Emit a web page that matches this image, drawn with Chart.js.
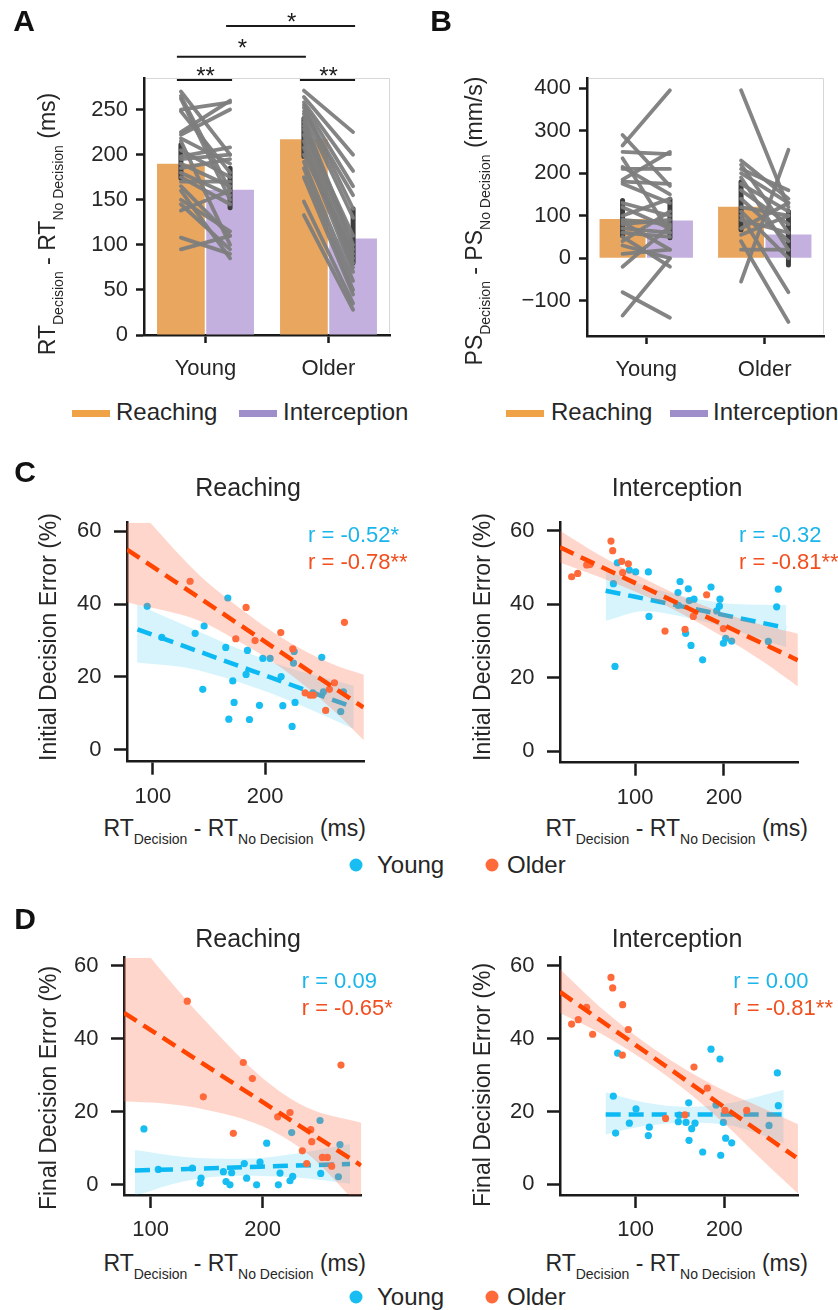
<!DOCTYPE html>
<html>
<head>
<meta charset="utf-8">
<title>Decision costs – young vs older</title>
<script src="https://cdn.jsdelivr.net/npm/chart.js@4.4.1/dist/chart.umd.min.js"></script>
<style>
  body { margin: 0; background: #fff; font-family: "Liberation Sans", Arial, sans-serif; color: #262626; }
  #fig { position: relative; width: 838px; height: 1310px; overflow: hidden; }
  canvas { position: absolute; }
  .t { position: absolute; white-space: nowrap; font-size: 23px; line-height: 30px; height: 30px; transform: translate(-50%, -50%); }
  .l { transform: translate(0, -50%); }
  .r { transform: translate(-50%, -50%) rotate(-90deg); }
  .s { font-size: 14px; vertical-align: -8px; line-height: 0; }
  .p { font-weight: bold; font-size: 30px; color: #111; }
  .h { font-size: 25px; }
  .lg { font-size: 24px; }
  .rb { color: #1AB5EA; font-size: 22px; }
  .ro { color: #F24E1E; font-size: 22px; }
  .sw { position: absolute; width: 38px; height: 7px; }
  .dot { position: absolute; width: 13px; height: 13px; border-radius: 50%; transform: translate(-50%, -50%); }
</style>
</head>
<body>
<div id="fig">
  <canvas id="cA" width="420" height="395" style="left:0;top:0"></canvas>
  <canvas id="cB" width="418" height="395" style="left:420px;top:0"></canvas>
  <canvas id="cCR" width="420" height="310" style="left:0;top:497px"></canvas>
  <canvas id="cCI" width="418" height="310" style="left:420px;top:497px"></canvas>
  <canvas id="cDR" width="420" height="310" style="left:0;top:932px"></canvas>
  <canvas id="cDI" width="418" height="310" style="left:420px;top:932px"></canvas>

  <!-- panel letters -->
  <div class="t p" style="left:24px;top:21px">A</div>
  <div class="t p" style="left:441px;top:21px">B</div>
  <div class="t p" style="left:25px;top:472px">C</div>
  <div class="t p" style="left:25px;top:919px">D</div>

  <!-- A / B axis titles and legends -->
  <div class="t r" style="left:46.5px;top:223.5px">RT<span class="s">Decision</span> - RT<span class="s">No Decision</span> (ms)</div>
  <div class="t r" style="left:474px;top:221px">PS<span class="s">Decision</span> - PS<span class="s">No Decision</span> (mm/s)</div>

  <div class="sw" style="left:72px;top:409.5px;background:#F0A346"></div>
  <div class="t l lg" style="left:116px;top:412px">Reaching</div>
  <div class="sw" style="left:239px;top:409.5px;background:#9E8FCB"></div>
  <div class="t l lg" style="left:283px;top:412px">Interception</div>

  <div class="sw" style="left:506px;top:409.5px;background:#F0A346"></div>
  <div class="t l lg" style="left:551px;top:412px">Reaching</div>
  <div class="sw" style="left:670px;top:409.5px;background:#9E8FCB"></div>
  <div class="t l lg" style="left:713px;top:412px">Interception</div>

  <!-- C -->
  <div class="t h" style="left:248px;top:486.5px">Reaching</div>
  <div class="t h" style="left:677px;top:486.5px">Interception</div>
  <div class="t r" style="left:48px;top:636.5px">Initial Decision Error (%)</div>
  <div class="t r" style="left:482px;top:636.5px">Initial Decision Error (%)</div>
  <div class="t" style="left:234.7px;top:828.3px">RT<span class="s">Decision</span> - RT<span class="s">No Decision</span> (ms)</div>
  <div class="t" style="left:676.7px;top:828.3px">RT<span class="s">Decision</span> - RT<span class="s">No Decision</span> (ms)</div>
  <div class="t l rb" style="left:308px;top:534.7px">r = -0.52*</div>
  <div class="t l ro" style="left:308px;top:561.7px">r = -0.78**</div>
  <div class="t l rb" style="left:739px;top:534.7px">r = -0.32</div>
  <div class="t l ro" style="left:739px;top:561.7px">r = -0.81**</div>
  <div class="dot" style="left:356px;top:865px;background:#18BDF2"></div>
  <div class="t l lg" style="left:377px;top:865px">Young</div>
  <div class="dot" style="left:491.7px;top:865px;background:#FF6A3A"></div>
  <div class="t l lg" style="left:507px;top:865px">Older</div>

  <!-- D -->
  <div class="t h" style="left:248px;top:937.5px">Reaching</div>
  <div class="t h" style="left:677px;top:937.5px">Interception</div>
  <div class="t r" style="left:47.7px;top:1087.5px">Final Decision Error (%)</div>
  <div class="t r" style="left:482px;top:1085px">Final Decision Error (%)</div>
  <div class="t" style="left:234.7px;top:1262.8px">RT<span class="s">Decision</span> - RT<span class="s">No Decision</span> (ms)</div>
  <div class="t" style="left:676.7px;top:1262.8px">RT<span class="s">Decision</span> - RT<span class="s">No Decision</span> (ms)</div>
  <div class="t l rb" style="left:301.7px;top:981px">r = 0.09</div>
  <div class="t l ro" style="left:301.7px;top:1008.3px">r = -0.65*</div>
  <div class="t l rb" style="left:733.3px;top:981px">r = 0.00</div>
  <div class="t l ro" style="left:733.3px;top:1008.3px">r = -0.81**</div>
  <div class="dot" style="left:356px;top:1296.5px;background:#18BDF2"></div>
  <div class="t l lg" style="left:377px;top:1296.5px">Young</div>
  <div class="dot" style="left:491.7px;top:1296.5px;background:#FF6A3A"></div>
  <div class="t l lg" style="left:507px;top:1296.5px">Older</div>
</div>

<script>
// ---------- data ----------
const groups = ['Young', 'Older'];

// A: RT cost (ms), group means, SE ranges, one [reaching, interception] pair per participant
const rtReaching = [190, 217];
const rtInterception = [161, 107];
const rtReachingSE = [[174, 211], [198, 240]];
const rtInterceptionSE = [[141, 185], [80, 140]];
const rtYoungPairs = [[270, 200], [265, 160], [262, 150], [250, 258], [248, 180], [225, 260], [222, 250], [218, 190],
  [215, 100], [205, 175], [198, 208], [195, 200], [190, 165], [185, 195], [180, 155], [175, 145], [170, 170],
  [165, 110], [160, 85], [150, 115], [145, 95], [138, 160], [108, 90], [95, 110]];
const rtOlderPairs = [[271, 225], [264, 200], [258, 182], [255, 165], [252, 140], [248, 155], [245, 130], [240, 100],
  [236, 95], [232, 85], [228, 110], [222, 80], [215, 75], [208, 70], [200, 90], [192, 60], [185, 50], [175, 45],
  [148, 35], [133, 28]];
const rtTicks = [0, 50, 100, 150, 200, 250];

// B: PS cost (mm/s)
const psReaching = [92, 121];
const psInterception = [89, 56];
const psReachingSE = [[53, 136], [67, 180]];
const psInterceptionSE = [[48, 139], [-16, 110]];
const psYoungPairs = [[290, 170], [265, 395], [250, 245], [235, 60], [215, 150], [210, 210], [185, 250], [180, 175],
  [175, 130], [130, 100], [120, 70], [100, 140], [90, 80], [85, 20], [80, 90], [70, 60], [60, 50], [50, -20],
  [40, 110], [30, 0], [10, 20], [-20, 75], [-80, -140], [-135, 0]];
const psOlderPairs = [[395, 120], [230, 140], [220, 60], [210, 160], [200, 130], [190, 20], [175, 110], [160, 80],
  [140, 40], [120, 100], [110, 0], [100, -80], [90, 60], [70, 130], [55, 100], [40, -150], [20, 20], [-55, 255]];
const psTicks = [-100, 0, 100, 200, 300, 400];

// C/D scatter: [RT cost (ms), error (%)]
const rtAxisTicks = [100, 200];
const errTicks = [0, 20, 40, 60];

const cReachYoung = [[95, 39.4], [108, 30.9], [137.7, 32.0], [145.7, 34.0], [144.5, 16.6], [166.8, 41.7], [165, 28.1],
  [184.3, 27.3], [183.1, 20.7], [171.2, 18.9], [172.4, 13.0], [167.7, 8.4], [186.1, 8.3], [195, 12.2], [198, 25.1],
  [204.5, 25.1], [214.3, 20.1], [215.8, 12.1], [225.9, 27.0], [225.3, 23.8], [226.7, 13.0], [224.1, 6.4],
  [250.5, 25.4], [252, 15.9], [242.5, 15.6], [269.8, 15.9], [267.4, 10.5]];
const cReachOlder = [[133.2, 46.3], [183.1, 39.1], [173.9, 30.5], [191.1, 30.0], [214, 32.2], [224.7, 27.7],
  [235.7, 15.6], [240.1, 15.0], [243.1, 15.0], [254, 10.8], [257.3, 16.6], [261.8, 18.4], [270.7, 35.0]];
const cReachYoungFit = [[86.3, 33.1], [278.7, 11.65]];
const cReachOlderFit = [[77, 55.0], [287.6, 11.65]];
const cReachYoungBand = [[86, 24, 40], [130, 22.5, 34], [172, 19, 28.3], [216, 14.2, 23], [279, 5.7, 17.6]];
const cReachOlderBand = [[77, 40.5, 69.5], [142, 35.4, 47.8], [172, 30.6, 40.2], [216, 22.2, 30.6], [261, 10.8, 23.4], [288, 2.6, 20.6]];

const cInterYoung = [[80.1, 51.3], [75.7, 45.6], [93.6, 49.3], [100.7, 48.8], [115, 48.8], [115.7, 36.7], [77.5, 23.1],
  [150.6, 46.2], [148.3, 43.2], [159.9, 44.2], [148.7, 39.7], [161, 41.0], [166.3, 41.4], [185.4, 44.7], [195.5, 41.4],
  [194.8, 39.5], [191.8, 38.2], [156.9, 32.1], [162.9, 28.8], [176, 24.9], [201.9, 30.7], [199.3, 29.4], [208.6, 30.0],
  [249.8, 29.9], [259.2, 39.3], [261, 44.1]];
const cInterOlder = [[28.8, 47.5], [35.6, 48.4], [45.7, 50.7], [49.4, 50.8], [73, 57.2], [74.9, 54.6], [85, 51.7],
  [92.5, 51.0], [86.1, 48.6], [133.7, 32.7], [156.2, 33.2], [165.5, 36.7], [180.5, 42.6], [199.3, 33.4]];
const cInterYoungFit = [[67, 43.7], [269.7, 33.6]];
const cInterOlderFit = [[15.7, 55.5], [282.8, 24.8]];
const cInterYoungBand = [[67, 35.5, 49.5], [110, 38.1, 45.1], [160, 36.3, 41.9], [210, 33.1, 40.1], [270, 28.3, 39.8]];
const cInterOlderBand = [[15.7, 51.4, 60], [60, 47.4, 53.4], [110, 42.4, 47], [150, 37.8, 42.4], [200, 31, 37.6], [245, 24.2, 34.2], [283, 17.6, 32]];

const dReachYoung = [[94, 15.3], [106.8, 4.2], [137.2, 4.6], [145, 1.8], [144.2, 0.4], [164.9, 3.6], [167.3, 0.9],
  [170.8, 0], [172.3, 3.3], [183.6, 5.8], [185.7, 1.8], [194.6, 0], [197.6, 6.2], [203.6, 11.4], [215.5, 3.2], [214, 0],
  [224.4, 1.1], [226.8, 2.3], [225.9, 14.3], [251.2, 17.6], [251.8, 3.1], [267.6, 2.2], [269, 11.0]];
const dReachOlder = [[132.7, 50.3], [147, 24.1], [173.8, 14.1], [182.7, 33.5], [190.8, 29.1], [213.4, 18.6],
  [224.4, 19.8], [242.9, 15.1], [243.8, 11.8], [235.4, 9.3], [253.3, 7.5], [257.7, 7.5], [261.6, 5.1], [269.9, 32.8], [239.3, 5.8]];
const dReachYoungFit = [[86, 3.9], [278, 5.7]];
const dReachOlderFit = [[76.2, 47.1], [287.8, 5.3]];
const dReachYoungBand = [[86, -3, 9.5], [130, 1, 7.6], [180, 2.5, 7.1], [230, 2, 8.6], [278, 0.3, 11.2]];
const dReachOlderBand = [[76, 22.8, 71.4], [110, 22.3, 58.5], [150, 20.5, 44.5], [200, 16, 29.2], [240, 8.5, 21.1], [288, -6.4, 17]];

const dInterYoung = [[79.7, 36], [74.8, 24.2], [77.4, 14.1], [100.4, 20.7], [92.9, 16.8], [115.4, 15.7], [114.3, 13.4],
  [148.1, 17.2], [149.2, 19.0], [156.8, 17.0], [159.8, 22.4], [163.2, 15.3], [160.2, 12.1], [166.9, 16.8], [175.6, 8.9],
  [185, 37.1], [195.1, 34.4], [190.6, 21.8], [198.9, 17.0], [201.5, 12.7], [195.9, 8.0], [208.3, 11.4], [250.4, 16.2],
  [260.9, 21.6], [259.8, 30.6]];
const dInterOlder = [[27.8, 44], [35.3, 45.2], [44.7, 48.6], [51.5, 41.2], [72.2, 56.8], [74.1, 53.9], [85.3, 49.3],
  [91.7, 42.5], [85, 35.5], [133.8, 18.1], [155.6, 19.1], [165.8, 32.2], [180.8, 26.4], [200.8, 20.3], [225.2, 20.3]];
const dInterYoungFit = [[66.2, 19.2], [266.5, 19.2]];
const dInterOlderFit = [[14.7, 52.8], [280.8, 7.4]];
const dInterYoungBand = [[66, 13.7, 25.3], [110, 16, 22.5], [160, 17, 21.3], [210, 16, 22.5], [267, 11.3, 26]];
const dInterOlderBand = [[14.7, 47, 59], [60, 41.5, 48.6], [110, 34, 39], [150, 27, 32.5], [200, 16.7, 25.7], [240, 7.3, 21.3], [283, -2.5, 16.5]];

// ---------- styling ----------
Chart.defaults.font.family = '"Liberation Sans", Arial, sans-serif';
Chart.defaults.font.size = 22;
Chart.defaults.color = '#262626';

const INK = '#1a1a1a';
const spine = { color: INK, width: 2.5 };
const tickGrid = len => ({ drawOnChartArea: false, tickLength: len, tickColor: INK, tickWidth: 2.5 });
const signed = v => (v < 0 ? '\u2212' + (-v) : String(v));
const fixTicks = list => scale => { scale.ticks = list.map(v => ({ value: v })); };

// subject lines, SE bars, light frame and significance brackets for the bar panels
const pairedLines = {
  id: 'pairedLines',
  afterDatasetsDraw(chart, args, opts) {
    const { ctx, chartArea: area } = chart;
    const y = chart.scales.y;
    const bars = [chart.getDatasetMeta(0).data, chart.getDatasetMeta(1).data];
    ctx.save();
    ctx.lineCap = 'round';

    ctx.strokeStyle = '#3d3d3d';
    ctx.lineWidth = 5;
    opts.se.forEach((ranges, d) => ranges.forEach(([lo, hi], g) => {
      const x = bars[d][g].x;
      ctx.beginPath();
      ctx.moveTo(x, y.getPixelForValue(lo));
      ctx.lineTo(x, y.getPixelForValue(hi));
      ctx.stroke();
    }));

    ctx.strokeStyle = 'rgba(125,125,125,0.95)';
    ctx.lineWidth = 3.8;
    opts.pairs.forEach((pairs, g) => pairs.forEach(([a, b]) => {
      ctx.beginPath();
      ctx.moveTo(bars[0][g].x, y.getPixelForValue(a));
      ctx.lineTo(bars[1][g].x, y.getPixelForValue(b));
      ctx.stroke();
    }));

    ctx.lineCap = 'butt';
    ctx.strokeStyle = '#d6d6d6';
    ctx.lineWidth = 1;
    ctx.beginPath();
    ctx.moveTo(area.left + 2, area.top + 0.5);
    ctx.lineTo(area.right - 0.5, area.top + 0.5);
    ctx.lineTo(area.right - 0.5, area.bottom - 2);
    ctx.stroke();

    ctx.strokeStyle = INK;
    ctx.fillStyle = INK;
    ctx.lineWidth = 2;
    ctx.font = '24px "Liberation Sans", Arial, sans-serif';
    ctx.textAlign = 'center';
    ctx.textBaseline = 'alphabetic';
    (opts.brackets || []).forEach(b => {
      const x0 = bars[b.from[0]][b.from[1]].x, x1 = bars[b.to[0]][b.to[1]].x;
      const ly = area.top + b.line;
      ctx.beginPath();
      ctx.moveTo(x0 - 4, ly);
      ctx.lineTo(x1 + 2, ly);
      ctx.stroke();
      ctx.fillText(b.label, (x0 + x1) / 2, area.top + b.star + 13.7);
    });
    ctx.restore();
  }
};

function barPanel(id, o) {
  return new Chart(document.getElementById(id), {
    type: 'bar',
    data: {
      labels: groups,
      datasets: [
        { label: 'Reaching', data: o.reach, backgroundColor: '#E8A65F', borderWidth: 0, barPercentage: 0.97, categoryPercentage: 0.8 },
        { label: 'Interception', data: o.inter, backgroundColor: '#C3B0DE', borderWidth: 0, barPercentage: 0.97, categoryPercentage: 0.8 }
      ]
    },
    options: {
      responsive: false,
      animation: false,
      events: [],
      layout: { padding: { top: 78, right: o.padR, left: 0, bottom: 0 } },
      plugins: {
        legend: { display: false },
        tooltip: { enabled: false },
        pairedLines: { pairs: o.pairs, se: o.se, brackets: o.brackets }
      },
      scales: {
        x: {
          grid: Object.assign({ offset: false }, tickGrid(8)),
          border: spine,
          ticks: { padding: 13 },
          afterFit: s => { s.height = o.xH; }
        },
        y: {
          min: o.range[0], max: o.range[1],
          afterBuildTicks: fixTicks(o.ticks),
          grid: tickGrid(8),
          border: spine,
          ticks: { padding: 8, callback: signed },
          afterFit: s => { s.width = o.yW; }
        }
      }
    },
    plugins: [pairedLines]
  });
}

const BLUE = '#18BDF2', BLUE_LINE = '#0CB9F2', BLUE_BAND = 'rgba(20,190,245,0.17)';
const ORANGE = '#FF6A3A', ORANGE_LINE = '#FF4500', ORANGE_BAND = 'rgba(255,105,65,0.27)';
const CLEAR = 'rgba(0,0,0,0)';

function scatterPanel(id, o) {
  const pts = a => a.map(([x, y]) => ({ x, y }));
  const edge = (b, k) => b.map(r => ({ x: r[0], y: r[k] }));
  const line = (data, extra) => Object.assign({
    type: 'line', data, pointRadius: 0, borderWidth: 0, borderColor: CLEAR, fill: false, cubicInterpolationMode: 'monotone'
  }, extra);
  const dots = (label, data, color, order) => ({
    label, data: pts(data), backgroundColor: color, borderColor: CLEAR, pointRadius: 3.6, borderWidth: 0, order
  });
  return new Chart(document.getElementById(id), {
    type: 'scatter',
    data: {
      datasets: [
        dots('Young', o.young, BLUE, 6),
        line(edge(o.youngBand, 1), { order: 5 }),
        line(edge(o.youngBand, 2), { order: 5, fill: { target: 1 }, backgroundColor: BLUE_BAND }),
        line(pts(o.youngFit), { order: 4, borderColor: BLUE_LINE, borderWidth: 4.5, borderDash: [15, 8] }),
        dots('Older', o.older, ORANGE, 3),
        line(edge(o.olderBand, 1), { order: 2 }),
        line(edge(o.olderBand, 2), { order: 2, fill: { target: 5 }, backgroundColor: ORANGE_BAND }),
        line(pts(o.olderFit), { order: 1, borderColor: ORANGE_LINE, borderWidth: 4.5, borderDash: [15, 8] })
      ]
    },
    options: {
      responsive: false,
      animation: false,
      events: [],
      layout: { padding: { top: o.padT, right: o.padR, left: 0, bottom: 0 } },
      plugins: { legend: { display: false }, tooltip: { enabled: false } },
      scales: {
        x: {
          type: 'linear', min: o.xRange[0], max: o.xRange[1],
          afterBuildTicks: fixTicks(rtAxisTicks),
          grid: tickGrid(13), border: spine,
          ticks: { padding: 9 },
          afterFit: s => { s.height = o.xH; }
        },
        y: {
          type: 'linear', min: o.yRange[0], max: o.yRange[1],
          afterBuildTicks: fixTicks(errTicks),
          grid: tickGrid(13), border: spine,
          ticks: { padding: 12.5 },
          afterFit: s => { s.width = o.yW; }
        }
      }
    }
  });
}

barPanel('cA', {
  reach: rtReaching, inter: rtInterception, se: [rtReachingSE, rtInterceptionSE],
  pairs: [rtYoungPairs, rtOlderPairs], ticks: rtTicks, range: [0, 285],
  yW: 144, xH: 60, padR: 30,
  brackets: [
    { from: [0, 0], to: [1, 0], line: 2, star: -7.3, label: '**' },
    { from: [0, 1], to: [1, 1], line: 2, star: -7.3, label: '**' },
    { from: [0, 0], to: [0, 1], line: -21.3, star: -35.3, label: '*' },
    { from: [1, 0], to: [1, 1], line: -52, star: -62, label: '*' }
  ]
});

barPanel('cB', {
  reach: psReaching, inter: psInterception, se: [psReachingSE, psInterceptionSE],
  pairs: [psYoungPairs, psOlderPairs], ticks: psTicks, range: [-183, 424],
  yW: 167, xH: 59, padR: 14
});

scatterPanel('cCR', {
  young: cReachYoung, older: cReachOlder, youngFit: cReachYoungFit, olderFit: cReachOlderFit,
  youngBand: cReachYoungBand, olderBand: cReachOlderBand,
  xRange: [77, 288.4], yRange: [-3.3, 62.4], yW: 127, xH: 45.3, padT: 14.7, padR: 55.7
});
scatterPanel('cCI', {
  young: cInterYoung, older: cInterOlder, youngFit: cInterYoungFit, olderFit: cInterOlderFit,
  youngBand: cInterYoungBand, olderBand: cInterOlderBand,
  xRange: [15.7, 283.5], yRange: [-3.1, 62.2], yW: 140, xH: 44.3, padT: 16.3, padR: 39.7
});
scatterPanel('cDR', {
  young: dReachYoung, older: dReachOlder, youngFit: dReachYoungFit, olderFit: dReachOlderFit,
  youngBand: dReachYoungBand, olderBand: dReachOlderBand,
  xRange: [76.2, 288.4], yRange: [-2.8, 62.2], yW: 124, xH: 47, padT: 15.3, padR: 58.3
});
scatterPanel('cDI', {
  young: dInterYoung, older: dInterOlder, youngFit: dInterYoungFit, olderFit: dInterOlderFit,
  youngBand: dInterYoungBand, olderBand: dInterOlderBand,
  xRange: [14.7, 283.4], yRange: [-2.9, 62.2], yW: 140, xH: 47, padT: 14.7, padR: 39.7
});
</script>
</body>
</html>
